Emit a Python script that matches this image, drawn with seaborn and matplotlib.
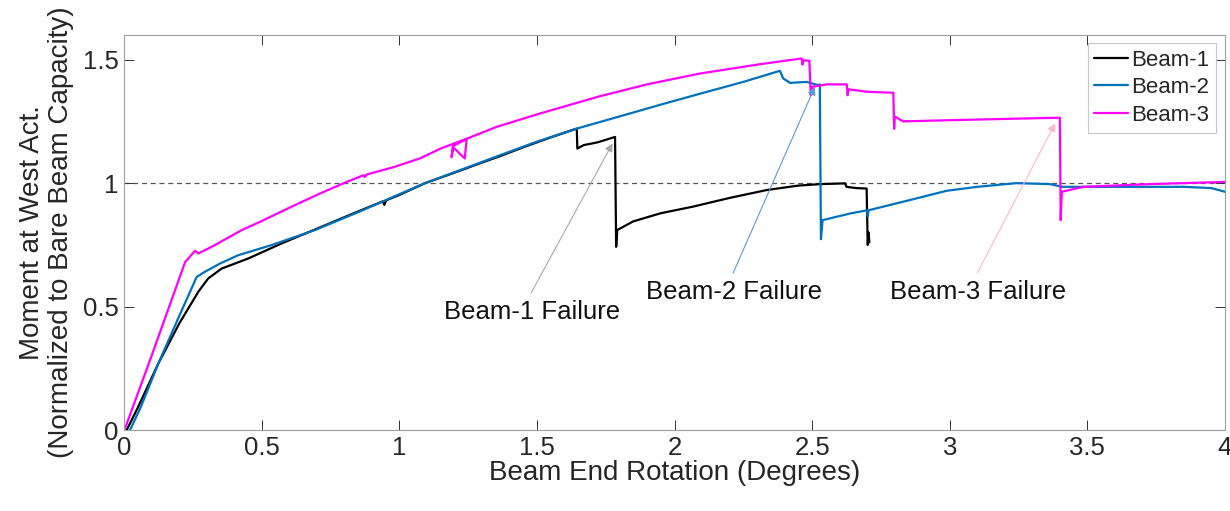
import numpy as np
import pandas as pd
import matplotlib
matplotlib.use("Agg")
import matplotlib.pyplot as plt
import seaborn as sns

# ---------------- data ----------------
beam1_x = [0.010, 0.05, 0.125, 0.20, 0.27, 0.306, 0.355, 0.452, 0.573, 0.70, 0.85, 0.940,
           0.946, 0.952, 1.00, 1.094, 1.20, 1.30, 1.366, 1.45, 1.55, 1.645, 1.647, 1.67,
           1.72, 1.784, 1.788, 1.792, 1.85, 1.95, 2.068, 2.20, 2.335, 2.45, 2.529, 2.62,
           2.625, 2.66, 2.698, 2.702, 2.705, 2.708]
beam1_y = [0.000, 0.09, 0.270, 0.43, 0.56, 0.614, 0.654, 0.695, 0.756, 0.815, 0.885, 0.926,
           0.912, 0.930, 0.952, 1.000, 1.042, 1.083, 1.109, 1.145, 1.185, 1.221, 1.140, 1.154,
           1.165, 1.187, 0.742, 0.810, 0.845, 0.878, 0.905, 0.940, 0.972, 0.990, 0.996, 0.999,
           0.985, 0.980, 0.978, 0.750, 0.800, 0.760]

beam2_x = [0.022, 0.06, 0.125, 0.20, 0.264, 0.294, 0.35, 0.415, 0.536, 0.694, 0.85, 1.00,
           1.094, 1.366, 1.50, 1.645, 1.80, 1.95, 2.105, 2.25, 2.383, 2.395, 2.42, 2.48,
           2.522, 2.528, 2.532, 2.538, 2.638, 2.70, 2.702, 2.705, 2.85, 2.989, 3.10, 3.243,
           3.364, 3.41, 3.60, 3.85, 3.95, 4.00]
beam2_y = [0.000, 0.09, 0.270, 0.46, 0.620, 0.641, 0.675, 0.708, 0.749, 0.810, 0.882, 0.955,
           1.000, 1.113, 1.168, 1.221, 1.270, 1.318, 1.366, 1.410, 1.455, 1.424, 1.406, 1.410,
           1.397, 1.400, 0.773, 0.850, 0.877, 0.890, 0.865, 0.890, 0.930, 0.969, 0.985, 1.000,
           0.996, 0.985, 0.985, 0.985, 0.980, 0.965]

beam3_x = [0.000, 0.004, 0.10, 0.222, 0.258, 0.27, 0.33, 0.428, 0.494, 0.60, 0.712, 0.809,
           0.870, 0.875, 0.882, 0.98, 1.075, 1.15, 1.245, 1.238, 1.196, 1.190, 1.195, 1.25,
           1.354, 1.511, 1.729, 1.90, 2.093, 2.30, 2.462, 2.465, 2.470, 2.490, 2.495, 2.500,
           2.553, 2.626, 2.629, 2.632, 2.70, 2.795, 2.798, 2.800, 2.83, 3.00, 3.20, 3.400,
           3.403, 3.407, 3.485, 3.727, 4.00]
beam3_y = [0.000, 0.007, 0.30, 0.680, 0.726, 0.715, 0.749, 0.810, 0.843, 0.900, 0.958, 1.005,
           1.032, 1.025, 1.035, 1.065, 1.100, 1.140, 1.180, 1.100, 1.145, 1.105, 1.150, 1.182,
           1.228, 1.282, 1.352, 1.400, 1.444, 1.480, 1.505, 1.480, 1.498, 1.495, 1.356, 1.390,
           1.400, 1.400, 1.356, 1.380, 1.370, 1.366, 1.220, 1.270, 1.250, 1.255, 1.260, 1.265,
           0.850, 0.965, 0.985, 0.996, 1.005]

beam_names = ["Beam-1", "Beam-2", "Beam-3"]
beam_colors = ["#000000", "#0072BD", "#FF00FF"]

x_ticks = [0, 0.5, 1, 1.5, 2, 2.5, 3, 3.5, 4]
x_tick_labels = ["0", "0.5", "1", "1.5", "2", "2.5", "3", "3.5", "4"]
y_ticks = [0, 0.5, 1, 1.5]
y_tick_labels = ["0", "0.5", "1", "1.5"]

failure_labels = ["Beam-1 Failure", "Beam-2 Failure", "Beam-3 Failure"]
failure_text_x = [1.482, 2.215, 3.103]
failure_text_y = [0.478, 0.559, 0.559]
failure_head_x = [1.775, 2.510, 3.383]
failure_head_y = [1.161, 1.390, 1.242]
failure_tail_x = [1.479, 2.213, 3.100]
failure_tail_y = [0.555, 0.636, 0.636]
arrow_colors = ["#a8a8a8", "#5b9bd5", "#ffb6cf"]

# ---------------- build frame ----------------
frames = []
for name, xs, ys in zip(beam_names, [beam1_x, beam2_x, beam3_x], [beam1_y, beam2_y, beam3_y]):
    frames.append(pd.DataFrame({"rot": xs, "mom": ys, "beam": name,
                                "order": np.arange(len(xs))}))
df = pd.concat(frames, ignore_index=True)

sns.set_theme(style="white")
plt.rcParams["font.family"] = ["Liberation Sans", "DejaVu Sans"]

fig = plt.figure(figsize=(12.3, 5.11), dpi=100)
ax = fig.add_axes([124 / 1230, 1 - 430 / 511, (1225 - 124) / 1230, (430 - 35) / 511])

sns.lineplot(data=df, x="rot", y="mom", hue="beam", palette=beam_colors,
             hue_order=beam_names, sort=False, estimator=None, units="beam",
             linewidth=1.6, ax=ax)

ax.axhline(1.0, color="#555555", linestyle=(0, (4, 3)), linewidth=0.9, zorder=0.5)

for lab, tx, ty, hx, hy, sx, sy, c in zip(failure_labels, failure_text_x, failure_text_y,
                                          failure_head_x, failure_head_y,
                                          failure_tail_x, failure_tail_y, arrow_colors):
    ax.text(tx, ty, lab, ha="center", va="center", fontsize=18.5, color="#111111")
    ax.annotate("", xy=(hx, hy), xytext=(sx, sy),
                arrowprops=dict(arrowstyle="-|>", color=c, lw=0.8,
                                mutation_scale=12, shrinkA=0, shrinkB=0))

ax.set_xlim(0, 4)
ax.set_ylim(0, 1.6)
ax.set_xticks(x_ticks)
ax.set_xticklabels(x_tick_labels)
ax.set_yticks(y_ticks)
ax.set_yticklabels(y_tick_labels)
ax.tick_params(direction="in", length=7, width=0.7, color="#333333",
               top=True, right=True, bottom=True, left=True,
               labelsize=18.5, pad=4, labelcolor="#262626")
for s in ax.spines.values():
    s.set_visible(True)
    s.set_color("#a0a0a0")
    s.set_linewidth(0.8)

ax.set_xlabel("Beam End Rotation (Degrees)", fontsize=20, color="#262626", labelpad=0)
ax.set_ylabel("Moment at West Act.\n(Normalized to Bare Beam Capacity)", fontsize=20,
              color="#262626", labelpad=6, linespacing=1.15)

handles, labels = ax.get_legend_handles_labels()
leg = ax.legend(handles, labels, loc="upper right", bbox_to_anchor=(0.9915, 0.98),
                fontsize=16, frameon=True, fancybox=False, framealpha=1,
                edgecolor="#c8c8c8", handlelength=1.5, handletextpad=0.15,
                borderpad=0.3, labelspacing=0.3, borderaxespad=0)
leg.get_frame().set_linewidth(0.8)

fig.savefig("out.png", dpi=100)
